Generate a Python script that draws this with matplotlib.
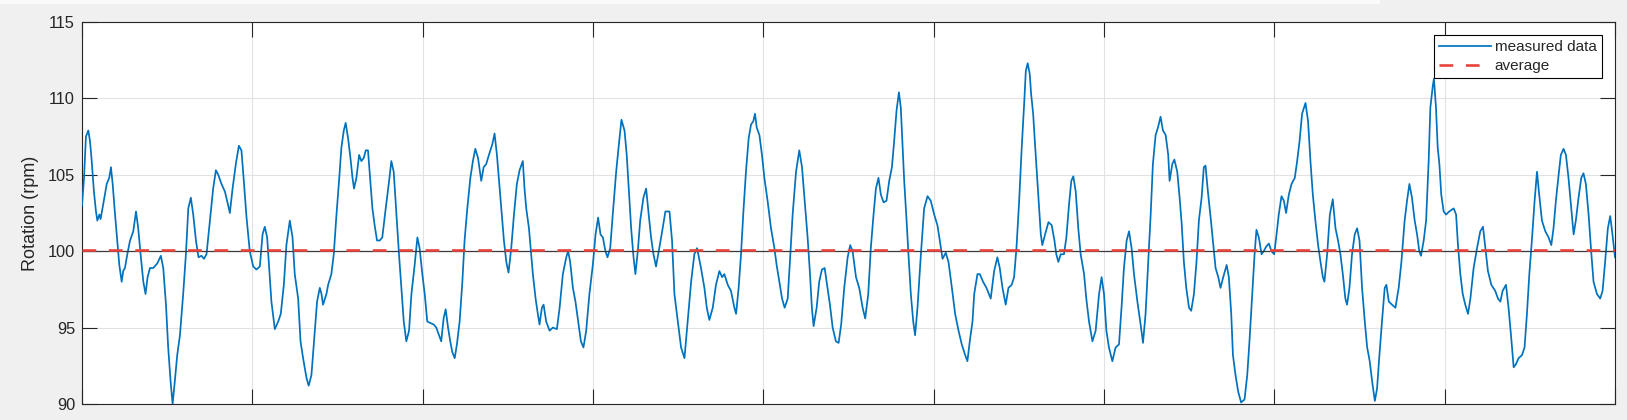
import matplotlib
matplotlib.use("Agg")
import matplotlib.pyplot as plt
from matplotlib.patches import Rectangle
from matplotlib.lines import Line2D

# time axis (grid units, 0..9) and measured rotation (rpm)
time_s = [
    0.000, 0.012, 0.023, 0.037, 0.047, 0.057, 0.070, 0.082, 0.090, 0.102,
    0.109, 0.125, 0.145, 0.160, 0.170, 0.180, 0.194, 0.207, 0.219, 0.233,
    0.242, 0.252, 0.266, 0.282, 0.301, 0.317, 0.330, 0.344, 0.360, 0.373,
    0.385, 0.399, 0.418, 0.442, 0.463, 0.477, 0.493, 0.506, 0.520, 0.532,
    0.545, 0.559, 0.575, 0.594, 0.610, 0.624, 0.639, 0.653, 0.669, 0.684,
    0.702, 0.716, 0.731, 0.751, 0.770, 0.786, 0.800, 0.819, 0.839, 0.854,
    0.868, 0.884, 0.903, 0.921, 0.936, 0.950, 0.966, 0.985, 1.005, 1.024,
    1.044, 1.060, 1.073, 1.087, 1.099, 1.112, 1.132, 1.152, 1.167, 1.185,
    1.200, 1.220, 1.236, 1.249, 1.269, 1.283, 1.298, 1.318, 1.331, 1.347,
    1.361, 1.380, 1.396, 1.406, 1.415, 1.435, 1.445, 1.464, 1.478, 1.494,
    1.509, 1.523, 1.537, 1.548, 1.562, 1.576, 1.588, 1.597, 1.611, 1.627,
    1.640, 1.654, 1.666, 1.679, 1.693, 1.705, 1.718, 1.732, 1.748, 1.763,
    1.783, 1.803, 1.816, 1.830, 1.846, 1.861, 1.875, 1.889, 1.904, 1.920,
    1.934, 1.953, 1.969, 1.982, 1.998, 2.012, 2.027, 2.045, 2.065, 2.080,
    2.096, 2.109, 2.123, 2.135, 2.149, 2.162, 2.174, 2.188, 2.201, 2.217,
    2.233, 2.246, 2.262, 2.280, 2.295, 2.309, 2.325, 2.344, 2.358, 2.373,
    2.389, 2.409, 2.422, 2.436, 2.452, 2.465, 2.477, 2.491, 2.504, 2.520,
    2.536, 2.553, 2.569, 2.588, 2.598, 2.608, 2.624, 2.637, 2.647, 2.663,
    2.676, 2.686, 2.700, 2.710, 2.725, 2.745, 2.764, 2.788, 2.804, 2.823,
    2.843, 2.854, 2.866, 2.882, 2.897, 2.913, 2.929, 2.944, 2.960, 2.979,
    2.999, 3.015, 3.030, 3.044, 3.058, 3.073, 3.085, 3.101, 3.116, 3.136,
    3.152, 3.167, 3.185, 3.198, 3.210, 3.224, 3.238, 3.249, 3.263, 3.277,
    3.296, 3.312, 3.327, 3.341, 3.355, 3.370, 3.386, 3.406, 3.425, 3.449,
    3.464, 3.478, 3.498, 3.517, 3.537, 3.556, 3.576, 3.595, 3.611, 3.634,
    3.654, 3.668, 3.683, 3.703, 3.722, 3.742, 3.758, 3.771, 3.791, 3.810,
    3.830, 3.840, 3.855, 3.869, 3.883, 3.898, 3.914, 3.928, 3.941, 3.951,
    3.961, 3.977, 3.992, 4.006, 4.025, 4.045, 4.065, 4.078, 4.094, 4.110,
    4.125, 4.143, 4.156, 4.172, 4.192, 4.211, 4.227, 4.240, 4.260, 4.274,
    4.285, 4.295, 4.313, 4.328, 4.344, 4.360, 4.377, 4.391, 4.407, 4.426,
    4.442, 4.457, 4.475, 4.495, 4.510, 4.524, 4.544, 4.563, 4.583, 4.598,
    4.616, 4.631, 4.647, 4.661, 4.676, 4.690, 4.706, 4.723, 4.739, 4.755,
    4.768, 4.782, 4.796, 4.807, 4.817, 4.827, 4.841, 4.852, 4.866, 4.880,
    4.891, 4.905, 4.925, 4.944, 4.964, 4.983, 5.003, 5.022, 5.036, 5.052,
    5.071, 5.087, 5.107, 5.126, 5.146, 5.165, 5.185, 5.198, 5.212, 5.228,
    5.238, 5.257, 5.271, 5.290, 5.310, 5.335, 5.355, 5.374, 5.388, 5.404,
    5.423, 5.439, 5.458, 5.472, 5.486, 5.501, 5.517, 5.531, 5.541, 5.552,
    5.564, 5.572, 5.584, 5.595, 5.609, 5.619, 5.629, 5.638, 5.654, 5.674,
    5.693, 5.709, 5.720, 5.732, 5.746, 5.765, 5.779, 5.795, 5.808, 5.820,
    5.834, 5.849, 5.863, 5.883, 5.896, 5.912, 5.932, 5.951, 5.971, 5.986,
    6.000, 6.014, 6.029, 6.049, 6.068, 6.088, 6.104, 6.117, 6.133, 6.147,
    6.162, 6.176, 6.196, 6.215, 6.229, 6.244, 6.260, 6.274, 6.287, 6.303,
    6.317, 6.332, 6.346, 6.362, 6.377, 6.385, 6.401, 6.413, 6.430, 6.444,
    6.456, 6.469, 6.483, 6.499, 6.512, 6.528, 6.543, 6.557, 6.573, 6.586,
    6.596, 6.610, 6.626, 6.639, 6.655, 6.671, 6.684, 6.700, 6.720, 6.733,
    6.747, 6.757, 6.772, 6.788, 6.805, 6.825, 6.841, 6.854, 6.870, 6.884,
    6.895, 6.909, 6.925, 6.938, 6.952, 6.968, 6.983, 6.999, 7.013, 7.026,
    7.042, 7.056, 7.069, 7.085, 7.101, 7.120, 7.134, 7.148, 7.163, 7.183,
    7.198, 7.212, 7.226, 7.241, 7.257, 7.271, 7.285, 7.294, 7.310, 7.326,
    7.343, 7.359, 7.374, 7.388, 7.402, 7.417, 7.427, 7.441, 7.456, 7.472,
    7.486, 7.500, 7.515, 7.531, 7.545, 7.560, 7.574, 7.590, 7.603, 7.617,
    7.632, 7.648, 7.658, 7.672, 7.691, 7.711, 7.730, 7.746, 7.765, 7.779,
    7.793, 7.808, 7.824, 7.838, 7.851, 7.861, 7.877, 7.891, 7.906, 7.916,
    7.930, 7.937, 7.949, 7.959, 7.969, 7.980, 7.994, 8.008, 8.027, 8.053,
    8.067, 8.078, 8.092, 8.106, 8.121, 8.137, 8.151, 8.170, 8.190, 8.209,
    8.225, 8.239, 8.254, 8.274, 8.297, 8.313, 8.327, 8.340, 8.360, 8.375,
    8.391, 8.405, 8.418, 8.434, 8.454, 8.469, 8.483, 8.497, 8.512, 8.528,
    8.542, 8.555, 8.571, 8.591, 8.610, 8.626, 8.639, 8.653, 8.669, 8.682,
    8.698, 8.712, 8.727, 8.743, 8.757, 8.770, 8.786, 8.802, 8.815, 8.829,
    8.845, 8.860, 8.874, 8.894, 8.913, 8.927, 8.942, 8.958, 8.972, 8.985,
    9.000,
]

rpm = [
    103.0, 104.8, 107.5, 107.9, 107.2, 105.9, 103.9, 102.6, 102.0, 102.4,
    102.1, 103.1, 104.4, 104.8, 105.5, 104.4, 102.4, 100.7, 99.1, 98.0,
    98.7, 98.9, 99.8, 100.7, 101.3, 102.6, 101.5, 99.8, 98.0, 97.2,
    98.3, 98.9, 98.9, 99.2, 99.7, 98.9, 96.5, 93.7, 91.5, 90.0,
    91.5, 93.2, 94.5, 97.2, 99.8, 102.8, 103.5, 102.4, 100.7, 99.6,
    99.7, 99.5, 99.8, 102.0, 104.1, 105.3, 105.0, 104.4, 103.9, 103.2,
    102.5, 104.1, 105.7, 106.9, 106.6, 104.6, 102.2, 100.0, 99.0, 98.8,
    99.0, 101.1, 101.6, 100.9, 98.9, 96.7, 94.9, 95.4, 95.9, 97.8,
    100.4, 102.0, 100.9, 98.5, 96.9, 94.1, 93.0, 91.7, 91.2, 91.9,
    93.9, 96.7, 97.6, 97.2, 96.5, 97.2, 97.8, 98.5, 99.8, 102.4,
    104.6, 106.8, 107.9, 108.4, 107.4, 106.1, 104.8, 104.1, 104.8, 106.3,
    105.9, 106.1, 106.6, 106.6, 104.6, 102.8, 101.7, 100.7, 100.7, 100.9,
    102.8, 104.6, 105.9, 105.2, 102.4, 99.8, 97.6, 95.4, 94.1, 94.8,
    97.2, 99.1, 100.9, 100.2, 98.5, 97.2, 95.4, 95.3, 95.2, 95.0,
    94.5, 94.1, 95.6, 96.2, 95.0, 94.1, 93.4, 93.0, 93.9, 95.4,
    98.0, 100.7, 102.8, 104.8, 105.9, 106.7, 106.1, 104.6, 105.5, 105.7,
    106.3, 107.0, 107.7, 106.3, 104.1, 102.4, 100.7, 99.3, 98.6, 100.2,
    102.4, 104.4, 105.3, 105.9, 104.1, 102.8, 101.5, 99.8, 98.5, 96.9,
    95.9, 95.2, 96.3, 96.5, 95.4, 94.8, 95.0, 94.9, 96.3, 98.5,
    99.6, 100.0, 99.3, 97.6, 96.7, 95.4, 94.1, 93.7, 94.8, 97.2,
    99.1, 101.1, 102.2, 101.1, 100.9, 100.0, 99.6, 100.2, 102.4, 105.2,
    107.0, 108.6, 107.9, 106.3, 104.1, 101.5, 99.6, 98.5, 100.0, 102.0,
    103.5, 104.1, 102.4, 100.9, 99.8, 99.0, 100.0, 101.3, 102.6, 102.6,
    100.7, 97.2, 95.4, 93.7, 93.0, 95.4, 98.0, 99.8, 100.2, 98.9,
    97.6, 96.3, 95.5, 96.3, 97.8, 98.7, 98.3, 98.5, 97.8, 97.4,
    96.3, 95.9, 97.6, 99.8, 102.6, 105.2, 107.4, 108.3, 108.5, 109.0,
    108.1, 107.6, 106.3, 104.8, 103.3, 101.5, 100.2, 99.1, 98.0, 96.9,
    96.3, 96.9, 99.3, 102.4, 105.2, 106.6, 105.5, 103.7, 100.9, 98.5,
    96.3, 95.1, 96.3, 98.0, 98.8, 98.9, 97.6, 96.5, 95.0, 94.1,
    94.0, 95.2, 97.6, 99.6, 100.4, 100.0, 98.3, 97.6, 96.3, 95.6,
    97.2, 100.2, 102.4, 104.1, 104.8, 103.7, 103.2, 103.3, 104.6, 105.5,
    107.2, 109.2, 110.4, 109.4, 107.0, 104.6, 102.0, 99.8, 97.2, 95.4,
    94.5, 96.3, 99.8, 102.8, 103.6, 103.3, 102.4, 101.7, 100.7, 99.5,
    99.9, 99.3, 97.6, 95.9, 94.8, 93.9, 93.2, 92.8, 94.1, 95.4,
    97.2, 98.5, 98.5, 98.0, 97.6, 96.9, 98.7, 99.6, 98.9, 97.6,
    96.5, 97.6, 97.8, 98.3, 100.2, 103.1, 106.8, 109.6, 111.8, 112.3,
    111.6, 110.3, 109.0, 107.0, 104.6, 102.8, 101.1, 100.4, 101.1, 101.9,
    101.7, 100.7, 99.8, 99.3, 99.8, 99.8, 100.9, 103.1, 104.6, 104.9,
    103.9, 101.5, 99.8, 98.5, 96.9, 95.4, 94.1, 94.8, 97.2, 98.3,
    97.2, 94.8, 93.7, 92.8, 93.7, 93.9, 96.5, 98.9, 100.7, 101.3,
    100.2, 98.5, 96.7, 95.2, 94.0, 95.9, 99.3, 102.4, 105.7, 107.6,
    108.1, 108.8, 107.9, 107.6, 106.3, 104.6, 105.7, 106.0, 105.2, 103.5,
    101.8, 99.3, 97.6, 96.3, 96.1, 97.2, 99.3, 102.0, 103.5, 105.5,
    105.6, 103.9, 102.2, 100.7, 98.9, 98.3, 97.6, 98.3, 99.1, 98.3,
    95.9, 93.2, 91.9, 90.8, 90.1, 90.3, 91.9, 94.1, 97.2, 99.8,
    101.4, 100.9, 99.8, 100.0, 100.3, 100.5, 100.0, 99.8, 101.1, 102.4,
    103.6, 103.3, 102.5, 103.7, 104.4, 104.8, 105.9, 107.2, 109.0, 109.7,
    108.5, 105.9, 103.7, 102.0, 100.4, 99.3, 98.3, 98.0, 99.8, 102.4,
    103.4, 101.5, 100.7, 99.8, 98.5, 96.9, 96.5, 97.6, 99.8, 101.1,
    101.5, 100.7, 97.6, 95.4, 93.7, 92.8, 91.5, 90.2, 91.0, 93.2,
    95.4, 97.6, 97.8, 96.7, 96.5, 96.3, 97.6, 99.3, 102.0, 103.3,
    104.4, 103.5, 102.0, 101.1, 100.0, 99.7, 100.7, 102.0, 105.9, 109.4,
    110.8, 111.3, 109.4, 106.8, 105.7, 103.7, 102.6, 102.4, 102.6, 102.8,
    102.4, 100.4, 98.5, 97.2, 96.5, 95.9, 96.9, 98.9, 100.2, 101.3,
    101.6, 100.2, 98.7, 97.8, 97.4, 96.9, 96.7, 97.4, 97.8, 96.3,
    94.3, 92.4, 92.6, 93.0, 93.2, 93.7, 95.9, 98.5, 100.7, 103.3,
    105.2, 103.7, 102.0, 101.3, 100.9, 100.4, 101.5, 103.3, 105.0, 106.3,
    106.7, 106.3, 104.8, 102.8, 101.1, 102.0, 103.5, 104.8, 105.1, 104.4,
    102.4, 100.0, 98.0, 97.2, 96.9, 97.4, 99.3, 101.5, 102.3, 101.1,
    99.6,
]

AVERAGE_RPM = 100.05
Y_TICKS = [90, 95, 100, 105, 110, 115]
X_GRID = [0, 1, 2, 3, 4, 5, 6, 7, 8, 9]
SERIES_LABELS = ["measured data", "average"]
Y_LABEL = "Rotation (rpm)"

assert len(time_s) == len(rpm)

plt.rcParams["font.family"] = ["Liberation Sans", "DejaVu Sans"]

W, H = 1627, 420
fig = plt.figure(figsize=(W / 100, H / 100), dpi=100, facecolor="#f0f0f0")
fig.patches.append(Rectangle((0, 1 - 4 / H), 1380 / W, 4 / H, transform=fig.transFigure,
                             facecolor="#fafafa", edgecolor="none", zorder=0))

ax = fig.add_axes([82 / W, 16 / H, 1533 / W, 382 / H])
ax.set_facecolor("white")

blue = "#0072BD"
red = "#e8433c"
dark = "#262626"

ax.plot(time_s, rpm, color=blue, lw=1.25, zorder=3, solid_joinstyle="round")
ax.axhline(100, color="#3a3a3a", lw=0.9, zorder=3.5)
ax.plot([time_s[0], time_s[-1]], [AVERAGE_RPM, AVERAGE_RPM], color=red, lw=1.9,
        dashes=(5.2, 4.8), zorder=4)

ax.set_xlim(X_GRID[0], X_GRID[-1])
ax.set_ylim(Y_TICKS[0], Y_TICKS[-1])
ax.set_xticks(X_GRID)
ax.set_xticklabels([])
ax.set_yticks(Y_TICKS)
ax.set_yticklabels([str(v) for v in Y_TICKS])
ax.tick_params(axis="both", direction="in", length=10.5, width=0.8, color=dark,
               top=True, right=True, labelsize=11.8, labelcolor=dark, pad=5)
ax.grid(True, color="#e2e2e2", lw=0.8)
ax.set_axisbelow(True)
for sp in ax.spines.values():
    sp.set_color(dark)
    sp.set_linewidth(0.8)

ax.set_ylabel(Y_LABEL, fontsize=13, color=dark, labelpad=6)

handles = [Line2D([0], [0], color=blue, lw=1.25),
           Line2D([0], [0], color=red, lw=1.9, dashes=(5.2, 4.8))]
leg = ax.legend(handles, SERIES_LABELS, loc="upper right", bbox_to_anchor=(0.9915, 0.966),
                borderaxespad=0, fontsize=11, fancybox=False, framealpha=1,
                edgecolor="black", handlelength=3.4, handletextpad=0.25,
                borderpad=0.35, labelspacing=0.3)
leg.get_frame().set_linewidth(0.8)
for txt in leg.get_texts():
    txt.set_color(dark)

fig.savefig("out.png", dpi=100, facecolor=fig.get_facecolor())
